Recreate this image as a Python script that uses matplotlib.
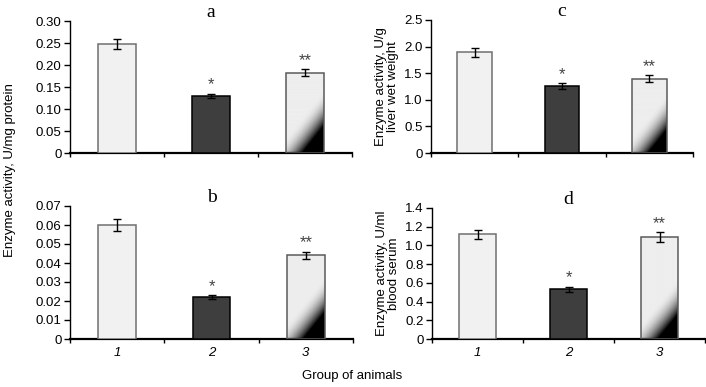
import numpy as np
import matplotlib
matplotlib.use("Agg")
import matplotlib.pyplot as plt

plt.rcParams['font.family'] = ['Liberation Sans', 'DejaVu Sans']

groups = ["1", "2", "3"]
stars = ["", "*", "**"]

# panel a: U/mg protein
vals_a = [0.248, 0.130, 0.182]
err_a = [0.011, 0.005, 0.008]
# panel b
vals_b = [0.060, 0.022, 0.044]
err_b = [0.003, 0.001, 0.002]
# panel c: U/g liver wet weight
vals_c = [1.89, 1.26, 1.40]
err_c = [0.09, 0.05, 0.06]
# panel d: U/ml blood serum
vals_d = [1.12, 0.53, 1.09]
err_d = [0.05, 0.03, 0.05]

W, H = 706, 387
fig = plt.figure(figsize=(W / 100, H / 100), dpi=100)


def px_axes(x0, x1, ytop, ybot):
    return fig.add_axes([x0 / W, 1 - ybot / H, (x1 - x0) / W, (ybot - ytop) / H])


def gradient_bar(ax, bar, ymax, ax_wpx, ax_hpx):
    # light grey fading to black in the lower right corner
    bw = bar.get_width()
    bh = bar.get_height()
    wpx = max(int(round(bw / 3 * ax_wpx)), 2)
    hpx = max(int(round(bh / ymax * ax_hpx)), 2)
    xx, yy = np.meshgrid(np.arange(wpx), np.arange(hpx)[::-1])
    d = np.clip((15 + 1.25 * xx - yy) / 35.0, 0, 1)
    img = 0.93 * (1 - d ** 2)
    x0 = bar.get_x()
    im = ax.imshow(img, cmap='gray', vmin=0, vmax=1, aspect='auto',
                   extent=[x0, x0 + bw, 0, bh], origin='upper', zorder=2)
    im.set_clip_path(bar)


def panel(ax, vals, errs, ymax, yticks, ylabels, letter, ylabel=None, xlabels=False):
    x = np.arange(1, 4)
    bars = ax.bar(x, vals, width=0.4, color=['#f1f1f1', '#3e3e3e', '#ececec'],
                  edgecolor=['#6f6f6f', 'black', '#5a5a5a'], linewidth=1.1, zorder=3)
    bars[2].set_facecolor('none')
    ax.errorbar(x, vals, yerr=errs, fmt='none', ecolor='black', elinewidth=1.0,
                capsize=3, capthick=1.0, zorder=4)
    ax.set_xlim(0.5, 3.5)
    ax.set_ylim(0, ymax)
    bbox = ax.get_position()
    gradient_bar(ax, bars[2], ymax, bbox.width * W, bbox.height * H)
    for xi, v, e, s in zip(x, vals, errs, stars):
        if s:
            ax.text(xi, v + e + ymax * 0.012, s, ha='center', va='bottom',
                    fontsize=12, color='#444444')
    ax.set_yticks(yticks)
    ax.set_yticklabels(ylabels, fontsize=9.5)
    ax.set_xticks([0.5, 1.5, 2.5, 3.5])
    ax.set_xticklabels([])
    ax.set_xticks(x, minor=True)
    if xlabels:
        ax.set_xticklabels(groups, minor=True, fontsize=9.5, style='italic')
    ax.tick_params(axis='x', which='minor', length=0, pad=6)
    ax.tick_params(axis='y', which='major', length=4.5, width=1, direction='out', pad=1.5)
    ax.tick_params(axis='x', which='major', length=3, width=1, direction='out')
    ax.spines['top'].set_visible(False)
    ax.spines['right'].set_visible(False)
    ax.spines['left'].set_linewidth(1)
    ax.spines['bottom'].set_linewidth(1.6)
    ax.set_title(letter, fontsize=14, family='Liberation Serif', pad=2)
    if ylabel:
        ax.set_ylabel(ylabel, fontsize=9.5, linespacing=0.95, labelpad=4)


ax_a = px_axes(70, 352, 21, 153)
panel(ax_a, vals_a, err_a, 0.30, np.arange(0, 0.31, 0.05),
      ["0", "0.05", "0.10", "0.15", "0.20", "0.25", "0.30"], "a")

ax_b = px_axes(70, 353, 206, 339)
panel(ax_b, vals_b, err_b, 0.07, np.arange(0, 0.071, 0.01),
      ["0", "0.01", "0.02", "0.03", "0.04", "0.05", "0.06", "0.07"], "b", xlabels=True)

ax_c = px_axes(431, 693, 20, 153)
panel(ax_c, vals_c, err_c, 2.5, np.arange(0, 2.51, 0.5),
      ["0", "0.5", "1.0", "1.5", "2.0", "2.5"], "c",
      ylabel="Enzyme activity, U/g\nliver wet weight")

ax_d = px_axes(432, 705, 208, 339)
panel(ax_d, vals_d, err_d, 1.4, np.arange(0, 1.41, 0.2),
      ["0", "0.2", "0.4", "0.6", "0.8", "1.0", "1.2", "1.4"], "d",
      ylabel="Enzyme activity, U/ml\nblood serum", xlabels=True)

fig.text(10 / W, 1 - 170 / H, "Enzyme activity, U/mg protein", rotation=90,
         ha='center', va='center', fontsize=9.5)
fig.text(352 / W, 1 - 376 / H, "Group of animals", ha='center', va='center', fontsize=9.5)

fig.savefig("out.png", dpi=100, facecolor='white')
